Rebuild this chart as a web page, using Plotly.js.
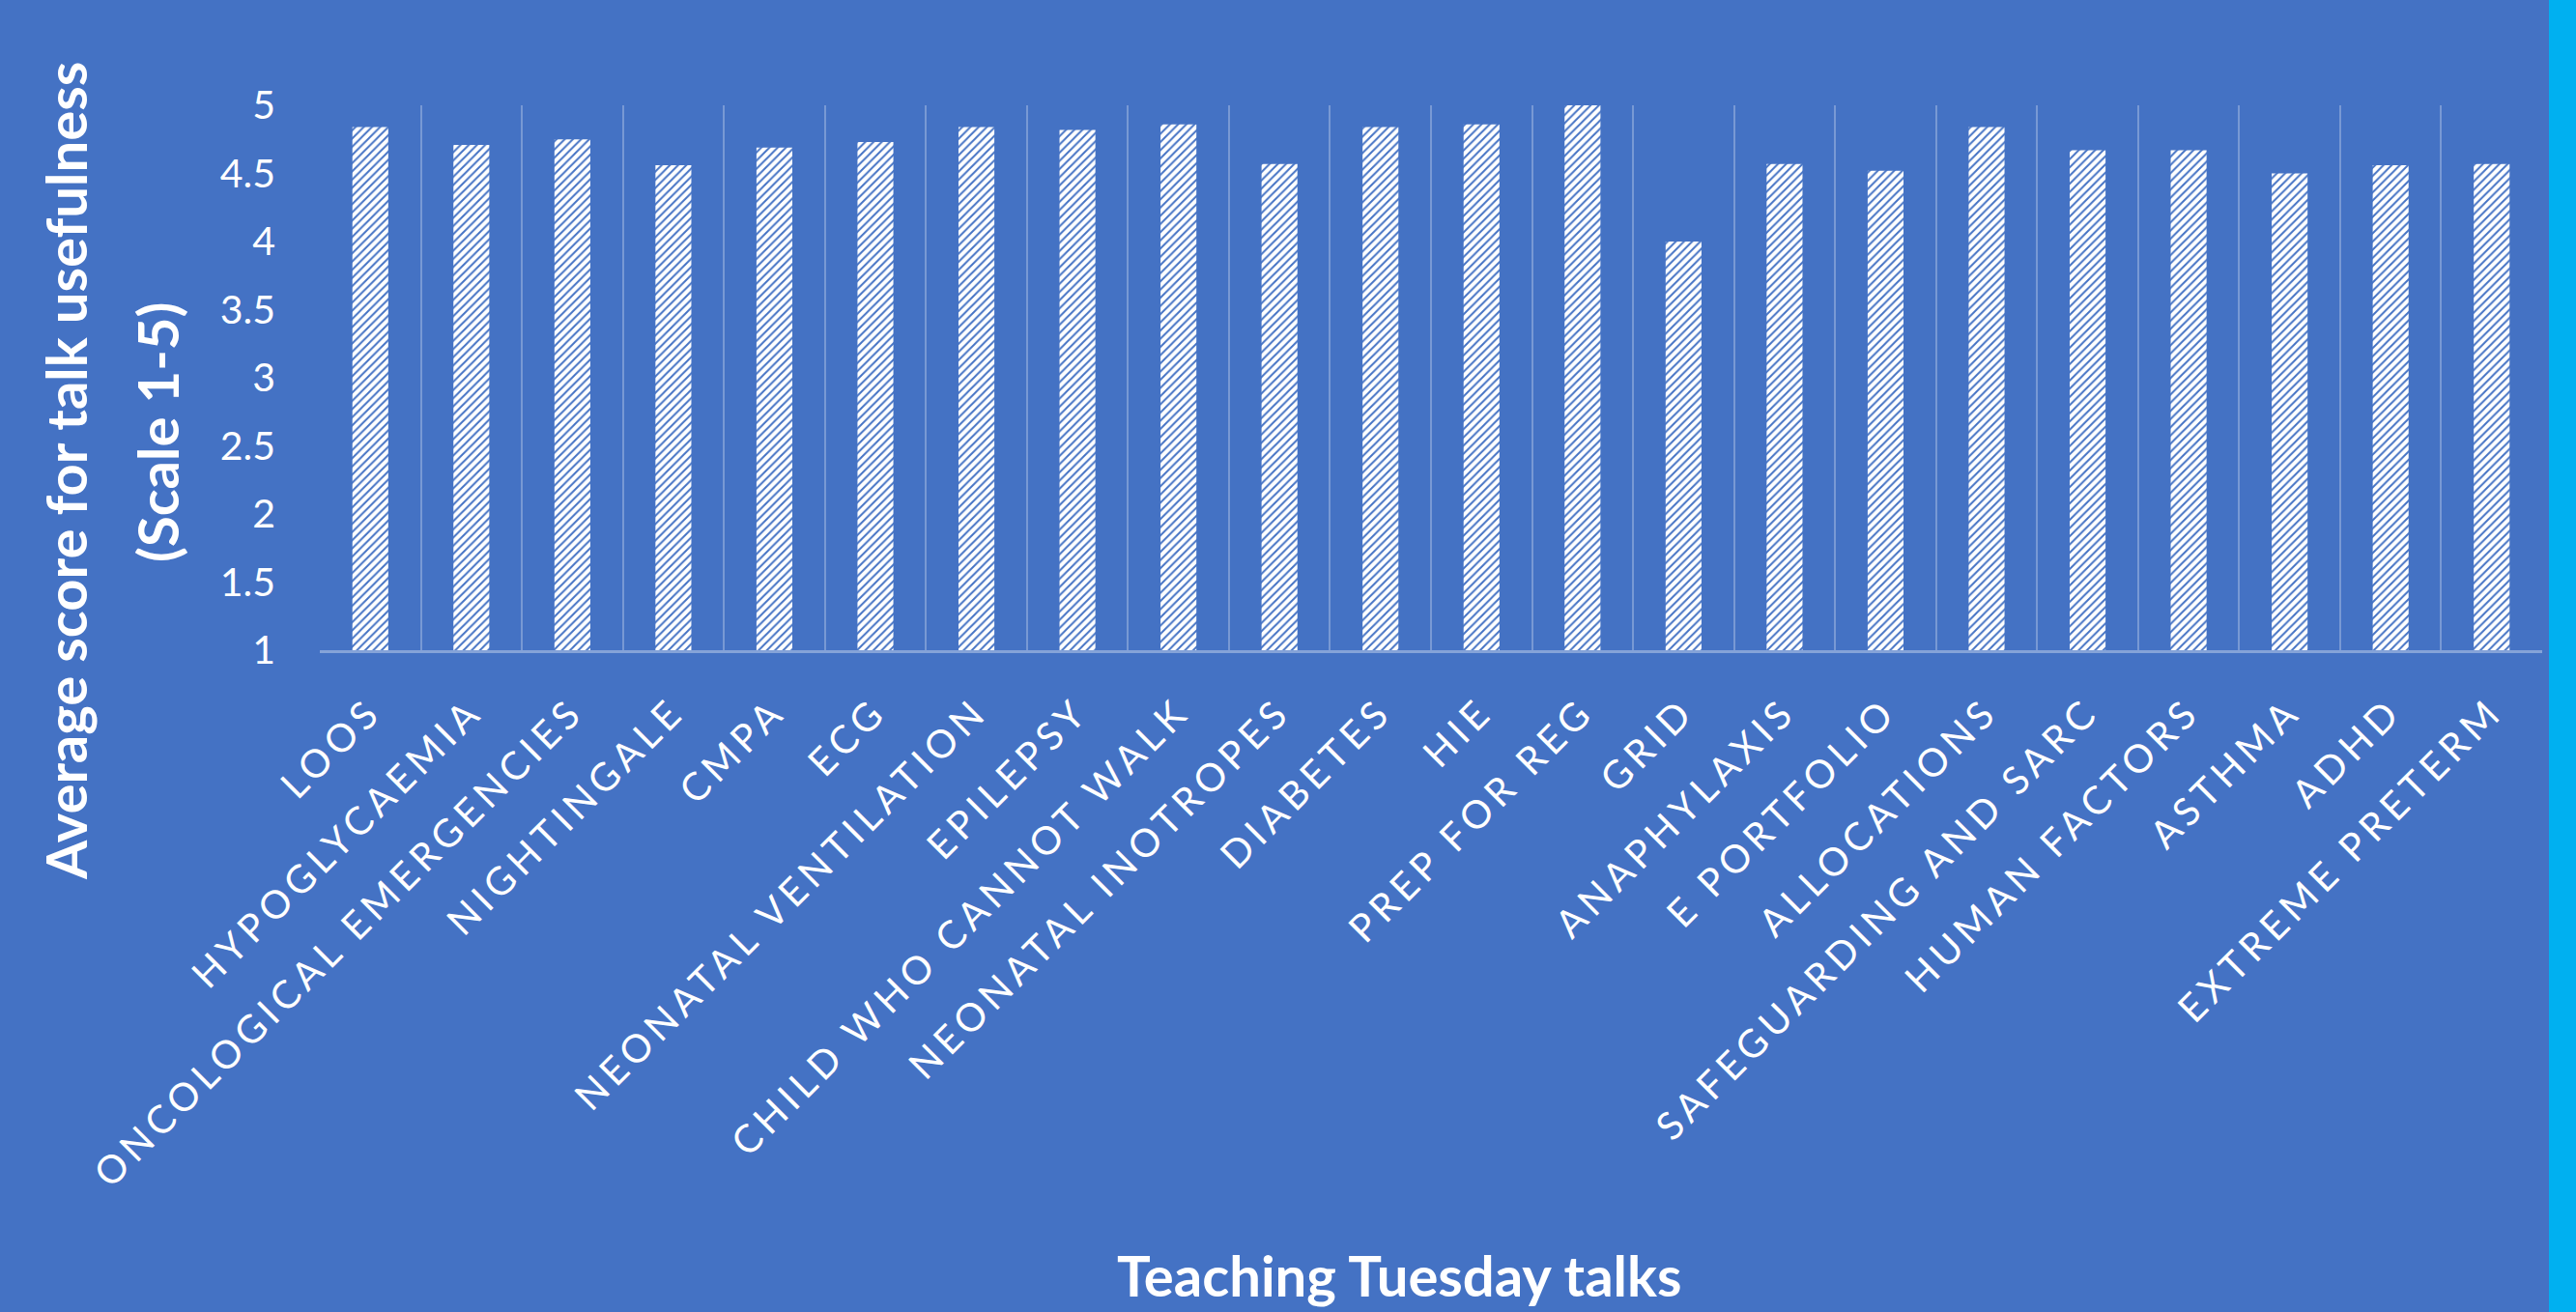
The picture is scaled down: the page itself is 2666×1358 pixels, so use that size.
<!DOCTYPE html>
<html>
<head>
<meta charset="utf-8">
<script src="https://cdn.plot.ly/plotly-3.0.1.min.js"></script>
<style>
  html, body { margin: 0; padding: 0; background: #4472C4; }
  #chart { width: 2666px; height: 1358px; }
  .xtick text { letter-spacing: 5.5px; }
</style>
</head>
<body>
<div id="chart"></div>
<script>
const categories = ["LOOS", "HYPOGLYCAEMIA", "ONCOLOGICAL EMERGENCIES", "NIGHTINGALE", "CMPA", "ECG",
  "NEONATAL VENTILATION", "EPILEPSY", "CHILD WHO CANNOT WALK", "NEONATAL INOTROPES", "DIABETES", "HIE",
  "PREP FOR REG", "GRID", "ANAPHYLAXIS", "E PORTFOLIO", "ALLOCATIONS", "SAFEGUARDING AND SARC",
  "HUMAN FACTORS", "ASTHMA", "ADHD", "EXTREME PRETERM"];
const scores = [4.84, 4.71, 4.75, 4.56, 4.69, 4.73, 4.84, 4.82, 4.86, 4.57, 4.84, 4.86,
  5.0, 4.0, 4.57, 4.52, 4.84, 4.67, 4.67, 4.50, 4.56, 4.57];
const yTickVals = [1, 1.5, 2, 2.5, 3, 3.5, 4, 4.5, 5];
const yTickText = ["1", "1.5", "2", "2.5", "3", "3.5", "4", "4.5", "5"];
const yTitleLine1 = "Average score for talk usefulness";
const yTitleLine2 = "(Scale 1-5)";
const xTitle = "Teaching Tuesday talks";

const BG = "#4472C4";
const FONT = "Lato, 'Open Sans', sans-serif";

const trace = {
  type: "bar",
  x: categories,
  y: scores,
  marker: {
    color: "#ffffff",
    line: { width: 0 },
    pattern: { shape: "/", fillmode: "replace", fgcolor: BG, bgcolor: "#ffffff", size: 6, solidity: 0.32 }
  },
  hoverinfo: "x+y"
};

const W = 2666, H = 1358;
const L = 331, R = 35, T = 109, B = 685;
const plotW = W - L - R, plotH = H - T - B;
const px = v => (v - L) / plotW;
const py = v => (H - B - v) / plotH;

const layout = {
  width: W, height: H,
  paper_bgcolor: BG, plot_bgcolor: BG,
  margin: { l: L, r: R, t: T, b: B, pad: 0 },
  bargap: 0.645,
  showlegend: false,
  font: { family: FONT, color: "#ffffff" },
  xaxis: {
    type: "category",
    range: [-0.5, categories.length - 0.5],
    tickangle: -45,
    tickson: "boundaries",
    ticks: "",
    showgrid: true,
    gridcolor: "rgba(255,255,255,0.28)",
    gridwidth: 2,
    showline: true,
    linecolor: "rgba(255,255,255,0.35)",
    linewidth: 3,
    tickfont: { family: FONT, size: 40, color: "#ffffff" },
    ticklabelstandoff: 21,
    fixedrange: true
  },
  yaxis: {
    range: [1, 5],
    tickvals: yTickVals,
    ticktext: yTickText,
    showgrid: false,
    zeroline: false,
    showline: false,
    ticks: "",
    tickfont: { family: FONT, size: 41, color: "#ffffff" },
    ticklabelstandoff: 45,
    fixedrange: true
  },
  annotations: [
    {
      text: yTitleLine1, xref: "paper", yref: "paper",
      x: px(67), y: py(488), xanchor: "center", yanchor: "middle",
      textangle: -90, showarrow: false,
      font: { family: FONT, size: 58, color: "#ffffff", weight: "bold" }
    },
    {
      text: yTitleLine2, xref: "paper", yref: "paper",
      x: px(162), y: py(448), xanchor: "center", yanchor: "middle",
      textangle: -90, showarrow: false,
      font: { family: FONT, size: 58, color: "#ffffff", weight: "bold" }
    },
    {
      text: xTitle, xref: "paper", yref: "paper",
      x: px(1448), y: py(1320), xanchor: "center", yanchor: "middle",
      showarrow: false,
      font: { family: FONT, size: 58, color: "#ffffff", weight: "bold" }
    }
  ],
  shapes: [
    {
      type: "rect", xref: "paper", yref: "paper", layer: "above",
      x0: px(2638), x1: px(W + 5), y0: py(H + 5), y1: py(-5),
      fillcolor: "#00B0F0", line: { width: 0 }
    }
  ]
};

Plotly.newPlot("chart", [trace], layout, { displayModeBar: false, staticPlot: true });
</script>
</body>
</html>
